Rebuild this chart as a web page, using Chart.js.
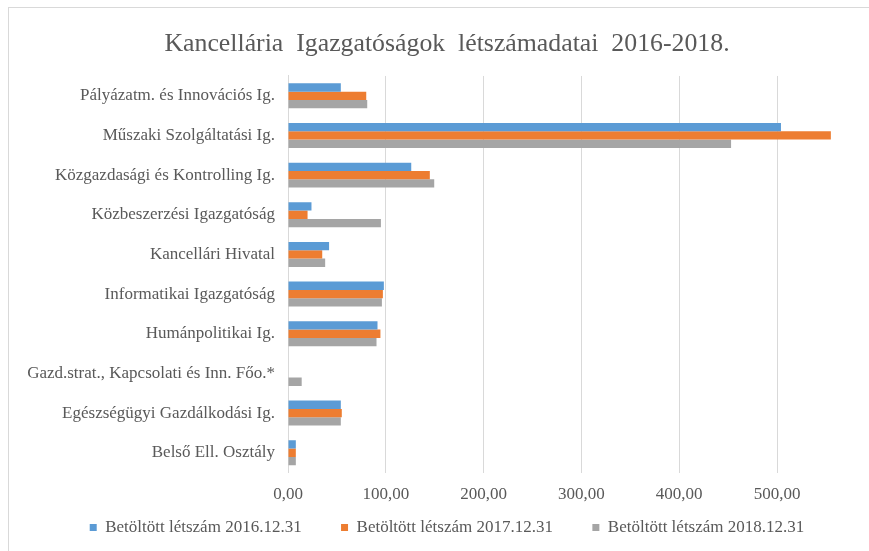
<!DOCTYPE html>
<html>
<head>
<meta charset="utf-8">
<script src="https://cdn.jsdelivr.net/npm/chart.js@4/dist/chart.umd.min.js"></script>
<style>
  html, body { margin: 0; padding: 0; background: #ffffff; }
  #wrap { width: 869px; height: 551px; position: relative; }
</style>
</head>
<body>
<div id="wrap"><canvas id="c" width="869" height="551"></canvas></div>
<script>
const categories = [
  "Pályázatm. és Innovációs Ig.",
  "Műszaki Szolgáltatási Ig.",
  "Közgazdasági és Kontrolling Ig.",
  "Közbeszerzési Igazgatóság",
  "Kancellári Hivatal",
  "Informatikai Igazgatóság",
  "Humánpolitikai Ig.",
  "Gazd.strat., Kapcsolati és Inn. Főo.*",
  "Egészségügyi Gazdálkodási Ig.",
  "Belső Ell. Osztály"
];
const seriesNames = [
  "Betöltött létszám 2016.12.31",
  "Betöltött létszám 2017.12.31",
  "Betöltött létszám 2018.12.31"
];
const values2016 = [54, 504, 126, 24, 42, 98, 91.5, null, 54, 8];
const values2017 = [80, 555, 145, 20, 35, 97, 94.5, null, 55, 8];
const values2018 = [81, 453, 149.5, 95, 38, 96, 90.5, 14, 54, 8];
const tickValues = [0, 100, 200, 300, 400, 500];

const colors = ["#5B9BD5", "#ED7D31", "#A5A5A5"];
const textColor = "#595959";
const serif = "'Liberation Serif', 'Times New Roman', serif";

const framePlugin = {
  id: 'frame',
  beforeDraw(chart) {
    const ctx = chart.ctx;
    ctx.save();
    ctx.fillStyle = '#ffffff';
    ctx.fillRect(0, 0, chart.width, chart.height);
    ctx.strokeStyle = '#d9d9d9';
    ctx.lineWidth = 1;
    ctx.strokeRect(8.5, 7.5, 1000, 1000);
    ctx.restore();
  }
};

new Chart(document.getElementById('c'), {
  type: 'bar',
  data: {
    labels: categories,
    datasets: [
      { label: seriesNames[0], data: values2016, backgroundColor: colors[0] },
      { label: seriesNames[1], data: values2017, backgroundColor: colors[1] },
      { label: seriesNames[2], data: values2018, backgroundColor: colors[2] }
    ]
  },
  plugins: [framePlugin],
  options: {
    indexAxis: 'y',
    responsive: false,
    animation: false,
    devicePixelRatio: 1,
    layout: { padding: { left: 8, right: -17, top: 8, bottom: 5 } },
    datasets: {
      bar: { categoryPercentage: 0.63, barPercentage: 1.0, borderWidth: 0 }
    },
    plugins: {
      title: {
        display: true,
        text: "Kancellária  Igazgatóságok  létszámadatai  2016-2018.",
        color: textColor,
        font: { family: serif, size: 25.8, weight: 'normal' },
        padding: { top: 21, bottom: 16 }
      },
      legend: {
        position: 'bottom',
        labels: {
          color: textColor,
          font: { family: serif, size: 17 },
          boxWidth: 7,
          boxHeight: 7,
          padding: 2,
          generateLabels(chart) {
            const items = Chart.defaults.plugins.legend.labels.generateLabels(chart);
            items.forEach((it, i) => {
              if (i < items.length - 1) it.text = it.text + '\u2003\u2003\u2009';
            });
            return items;
          }
        }
      },
      tooltip: { enabled: false }
    },
    scales: {
      x: {
        min: 0,
        max: 594,
        afterBuildTicks(scale) {
          scale.ticks = tickValues.map(v => ({ value: v }));
        },
        grid: { color: '#d9d9d9', lineWidth: 1, drawTicks: false },
        border: { display: false },
        ticks: {
          color: textColor,
          font: { family: serif, size: 17 },
          padding: 12,
          callback: (v) => Number(v).toFixed(2).replace('.', ',')
        }
      },
      y: {
        afterFit(scale) { scale.width = 280; },
        grid: { display: false, drawTicks: false },
        border: { display: true, color: '#d9d9d9', width: 1 },
        ticks: {
          color: textColor,
          font: { family: serif, size: 17 },
          padding: 13
        }
      }
    }
  }
});
</script>
</body>
</html>
